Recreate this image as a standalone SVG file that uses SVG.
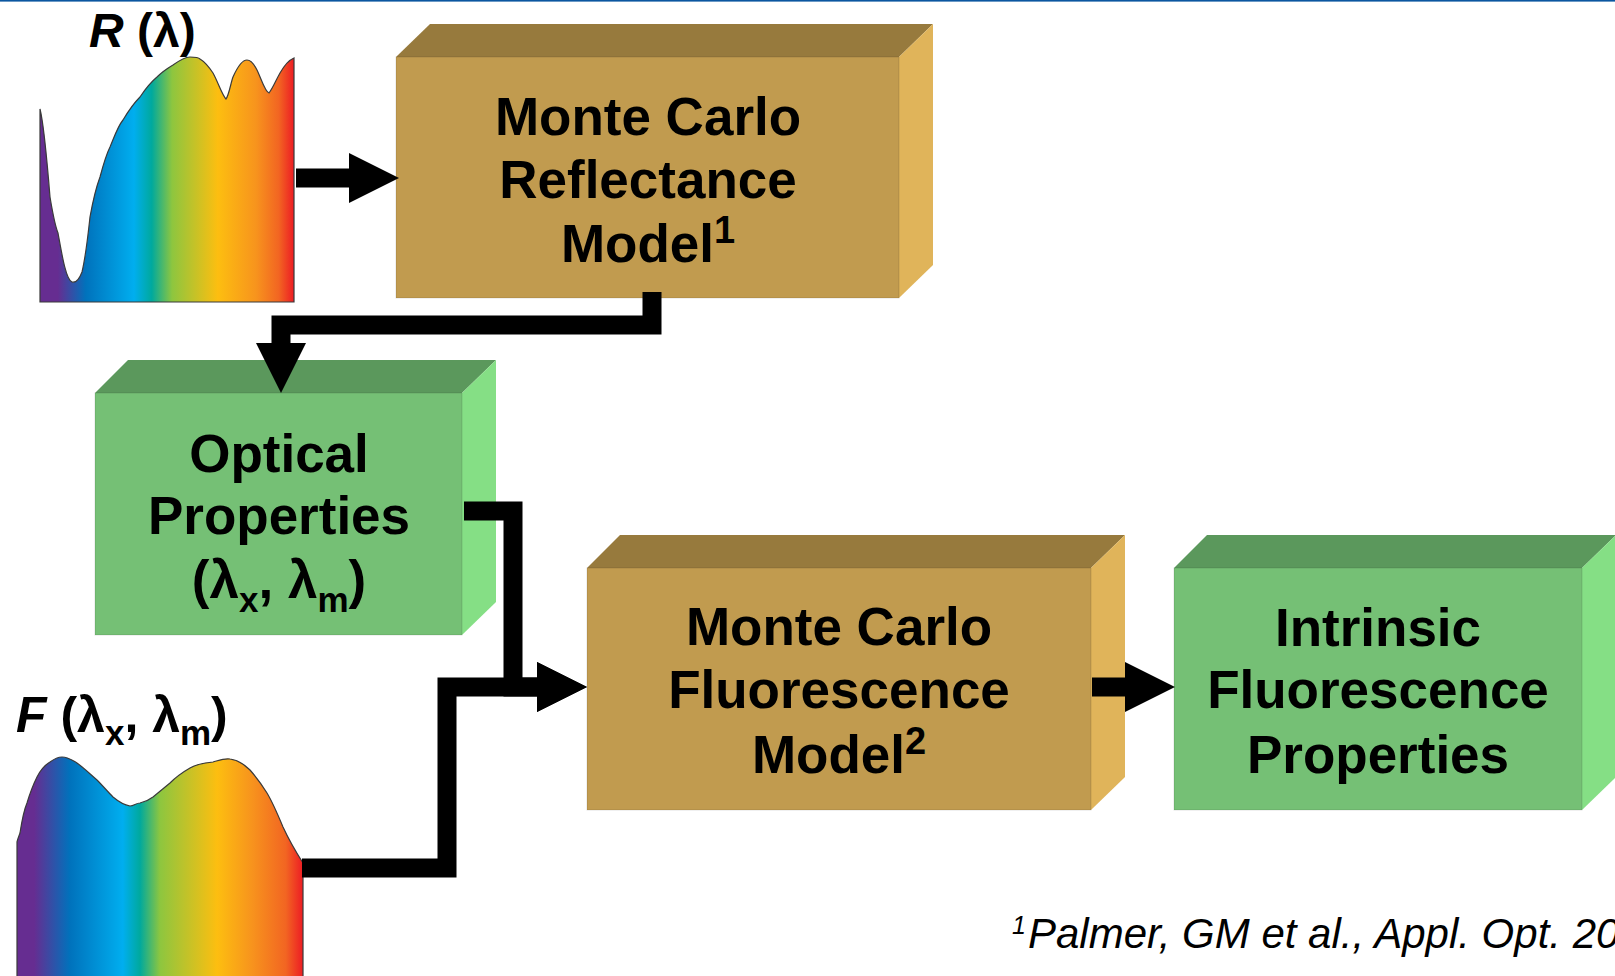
<svg xmlns="http://www.w3.org/2000/svg" width="1615" height="976" viewBox="0 0 1615 976">
<style>
.t{font-family:"Liberation Sans",Arial,sans-serif;font-weight:bold;font-size:53px;fill:#000}
.tan-f{fill:#c19b4f}.tan-t{fill:#977a3d}.tan-r{fill:#e0b45a}
.grn-f{fill:#75c075}.grn-t{fill:#5b985c}.grn-r{fill:#85df85}
.edge{stroke:#000;stroke-opacity:0.12;stroke-width:1}
.conn{fill:none;stroke:#000;stroke-width:19;stroke-linejoin:miter}
.spec{stroke:#3a3a3a;stroke-width:1.2}
.fn{font-family:"Liberation Sans",Arial,sans-serif;font-style:italic;font-size:42px;fill:#000}
</style>
<defs>
<linearGradient id="gR" x1="40" y1="0" x2="294" y2="0" gradientUnits="userSpaceOnUse">
<stop offset="0" stop-color="#662d91"/>
<stop offset="0.07" stop-color="#662d91"/>
<stop offset="0.18" stop-color="#0072bc"/>
<stop offset="0.37" stop-color="#00aeef"/>
<stop offset="0.44" stop-color="#00a99d"/>
<stop offset="0.52" stop-color="#8dc63f"/>
<stop offset="0.70" stop-color="#fdbe10"/>
<stop offset="0.85" stop-color="#f7941d"/>
<stop offset="0.94" stop-color="#f26522"/>
<stop offset="1" stop-color="#ed1c24"/>
</linearGradient>
<linearGradient id="gF" x1="17" y1="0" x2="303" y2="0" gradientUnits="userSpaceOnUse">
<stop offset="0" stop-color="#662d91"/>
<stop offset="0.06" stop-color="#662d91"/>
<stop offset="0.185" stop-color="#0072bc"/>
<stop offset="0.37" stop-color="#00aeef"/>
<stop offset="0.43" stop-color="#00a99d"/>
<stop offset="0.50" stop-color="#8dc63f"/>
<stop offset="0.70" stop-color="#fdbe10"/>
<stop offset="0.82" stop-color="#f7941d"/>
<stop offset="0.94" stop-color="#f26522"/>
<stop offset="1" stop-color="#ed1c24"/>
</linearGradient>
<marker id="ah" markerUnits="userSpaceOnUse" markerWidth="52" markerHeight="52" refX="0" refY="25" orient="auto" viewBox="0 0 52 52">
<path d="M0,0 L50,25 L0,50 Z" fill="#000"/>
</marker>
</defs>

<rect x="0" y="0" width="1615" height="1.6" fill="#0b56a0"/>

<g id="spectrum-R">
<path class="spec" fill="url(#gR)" d="M40,302 L40,109 C44,125 47,160 50,197 C53,215 56,228 58,233 C62,255 66,280 72,282 C76,283 79,280 82,272 C86,255 88,235 90,217 C94,195 97,185 100,177 C104,162 107,153 110,147 C115,135 118,126 123,120 C129,110 134,103 140,97 C146,88 151,82 157,77 C163,71 168,68 173,65 C180,60 185,57 190,57 C195,57 198,57 200,59 C205,62 209,67 213,73 C218,82 222,95 226,99 C229,95 231,82 233,77 C237,68 242,60 247,60 C251,60 254,64 257,70 C261,78 265,92 269,93 C273,88 276,80 280,73 C284,66 289,60 294,58 L294,302 Z"/>
</g>
<g id="label-R">
<text class="t" style="font-size:48px" x="89" y="47"><tspan font-style="italic">R</tspan> (λ)</text>
</g>

<g id="spectrum-F">
<path class="spec" fill="url(#gF)" d="M17,980 L17,842 C18,838 19,836 20,833 C22,820 24,810 27,803 C30,793 33,785 37,777 C41,769 45,765 50,762 C54,759 58,757 62,757 C68,757 72,760 77,763 C84,768 90,774 97,780 C103,786 108,792 113,797 C119,802 124,805 130,806 C134,806 136,803 140,803 C145,802 149,800 153,797 C159,792 164,788 170,783 C176,777 183,772 190,768 C197,764 204,763 213,762 C220,760 225,758 230,759 C238,760 244,764 250,770 C257,778 262,785 267,793 C273,803 278,815 283,827 C289,840 296,852 303,863 L303,980 Z"/>
</g>
<g id="label-F">
<text class="t" style="font-size:50px" x="16" y="732"><tspan font-style="italic">F</tspan> (λ<tspan dy="13" style="font-size:35px">x</tspan><tspan dy="-13">, λ</tspan><tspan dy="13" style="font-size:35px">m</tspan><tspan dy="-13">)</tspan></text>
</g>

<g id="node-mc-reflectance">
<polygon class="tan-t" points="396,57 430,24 933,24 899,57"/>
<polygon class="tan-r" points="899,57 933,24 933,265 899,298"/>
<rect class="tan-f edge" x="396" y="57" width="503" height="241"/>
<text class="t" x="648" text-anchor="middle"><tspan x="648" y="135">Monte Carlo</tspan><tspan x="648" y="198">Reflectance</tspan></text>
<text class="t" x="648" y="262" text-anchor="middle">Model<tspan dy="-19" style="font-size:38px">1</tspan></text>
</g>

<g id="node-optical-properties">
<polygon class="grn-t" points="95,393 128,360 496,360 462,393"/>
<polygon class="grn-r" points="462,393 496,360 496,602 462,635"/>
<rect class="grn-f edge" x="95" y="393" width="367" height="242"/>
<text class="t" text-anchor="middle"><tspan x="279" y="472">Optical</tspan><tspan x="279" y="534">Properties</tspan></text>
<text class="t" x="279" y="598" text-anchor="middle">(λ<tspan dy="14" style="font-size:35px">x</tspan><tspan dy="-14">, λ</tspan><tspan dy="14" style="font-size:35px">m</tspan><tspan dy="-14">)</tspan></text>
</g>

<g id="node-mc-fluorescence">
<polygon class="tan-t" points="587,568 620,535 1125,535 1091,568"/>
<polygon class="tan-r" points="1091,568 1125,535 1125,777 1091,810"/>
<rect class="tan-f edge" x="587" y="568" width="504" height="242"/>
<text class="t" text-anchor="middle"><tspan x="839" y="645">Monte Carlo</tspan><tspan x="839" y="708">Fluorescence</tspan></text>
<text class="t" x="839" y="773" text-anchor="middle">Model<tspan dy="-19" style="font-size:38px">2</tspan></text>
</g>

<g id="node-intrinsic">
<polygon class="grn-t" points="1174,568 1207,535 1616,535 1582,568"/>
<polygon class="grn-r" points="1582,568 1616,535 1616,777 1582,810"/>
<rect class="grn-f edge" x="1174" y="568" width="408" height="242"/>
<text class="t" text-anchor="middle"><tspan x="1378" y="646">Intrinsic</tspan><tspan x="1378" y="708">Fluorescence</tspan><tspan x="1378" y="773">Properties</tspan></text>
</g>

<g id="connectors">
<path class="conn" d="M296,178 H349" marker-end="url(#ah)"/>
<path class="conn" d="M652,292 V325 H281 V343" marker-end="url(#ah)"/>
<path class="conn" d="M464,511 H513 V687 H537" marker-end="url(#ah)"/>
<path class="conn" d="M302,868 H447 V687 H537" marker-end="url(#ah)"/>
<path class="conn" d="M1092,687 H1125" marker-end="url(#ah)"/>
</g>

<g id="footnote">
<text class="fn" y="948"><tspan x="1012" y="934" style="font-size:25px">1</tspan><tspan x="1028" y="948">Palmer, GM et al., Appl. Opt. 20</tspan></text>
</g>
</svg>
